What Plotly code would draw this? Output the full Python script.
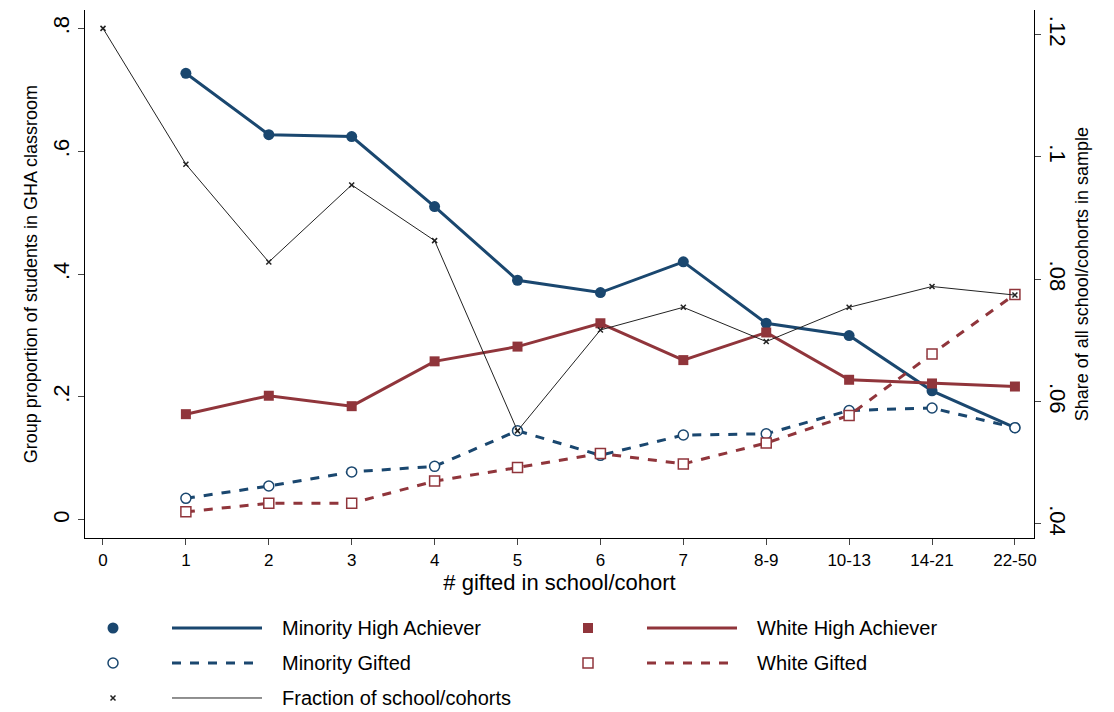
import plotly.graph_objects as go

cats = ["0","1","2","3","4","5","6","7","8-9","10-13","14-21","22-50"]
cats_g = cats[1:]
min_ha = [.727,.627,.624,.51,.39,.37,.42,.32,.30,.21,.15]
wht_ha = [.172,.202,.185,.258,.282,.32,.26,.305,.228,.222,.217]
min_gf = [.035,.055,.078,.087,.145,.105,.138,.14,.178,.182,.15]
wht_gf = [.013,.027,.027,.063,.085,.108,.091,.125,.17,.27,.367]
frac = [.121,.0988,.0828,.0954,.0863,.0552,.0717,.0754,.0698,.0754,.0788,.0774]

NAVY = "#1a476f"; RED = "#90353b"; BLK = "#222222"
styles = [
    ("Minority High Achiever", NAVY, "solid", 3, dict(symbol="circle", size=11, color=NAVY)),
    ("White High Achiever", RED, "solid", 3, dict(symbol="square", size=10, color=RED)),
    ("Minority Gifted", NAVY, "dash", 3, dict(symbol="circle", size=10, color="white", line=dict(width=1.5, color=NAVY))),
    ("White Gifted", RED, "dash", 3, dict(symbol="square", size=10, color="white", line=dict(width=1.5, color=RED))),
    ("Fraction of school/cohorts", BLK, "solid", 1, dict(symbol="x-thin", size=5, color=BLK, line=dict(width=1.5, color=BLK))),
]
series = [(cats_g, min_ha, "y"), (cats_g, wht_ha, "y"), (cats_g, min_gf, "y"), (cats_g, wht_gf, "y"), (cats, frac, "y2")]

fig = go.Figure()
for (name, col, dash, w, mk), (xs, ys, ax) in zip(styles, series):
    fig.add_trace(go.Scatter(x=xs, y=ys, name=name, mode="lines+markers", yaxis=ax, showlegend=False,
                             line=dict(color=col, width=w, dash=dash), marker=mk))

# manual legend (figure pixel coordinates)
pos = [(105, 620), (580, 620), (105, 655), (580, 655), (105, 690)]
for (name, col, dash, w, mk), (px, py) in zip(styles, pos):
    fig.add_trace(go.Scatter(x=[px], y=[py], mode="markers", marker=mk, xaxis="x3", yaxis="y3", showlegend=False, hoverinfo="skip"))
    fig.add_trace(go.Scatter(x=[px + 59, px + 149], y=[py, py], mode="lines", line=dict(color=col, width=w, dash=dash),
                             xaxis="x3", yaxis="y3", showlegend=False, hoverinfo="skip"))
    fig.add_annotation(x=px + 167, y=py, text=name, xref="x3", yref="y3", xanchor="left", yanchor="middle",
                       showarrow=False, font=dict(size=20))

fnt = dict(family="Liberation Sans, Arial", color="black")
fig.update_layout(
    width=1114, height=712, plot_bgcolor="white", paper_bgcolor="white",
    font=dict(**fnt, size=18),
    margin=dict(l=77, r=88, t=2, b=0, autoexpand=False),
    xaxis=dict(type="category", categoryarray=cats, range=[-0.217, 11.23], showline=True, linecolor="black",
               ticks="outside", ticklen=6, tickfont=dict(size=17), showgrid=False, anchor="y", automargin=False,
               title=dict(text="# gifted in school/cohort", font=dict(size=22), standoff=0)),
    yaxis=dict(domain=[0.256, 1], range=[-0.03, 0.83], tickvals=[0,.2,.4,.6,.8], ticktext=["0",".2",".4",".6",".8"],
               tickangle=-90, showline=True, linecolor="black", ticks="outside", ticklen=6, automargin=False,
               showgrid=False, zeroline=False, tickfont=dict(size=22),
               title=dict(text="Group proportion of students in GHA classroom", font=dict(size=18), standoff=6)),
    yaxis2=dict(domain=[0.256, 1], overlaying="y", side="right", anchor="x", range=[0.03765, 0.1240],
                tickvals=[.04,.06,.08,.1,.12], ticktext=[".04",".06",".08",".1",".12"], automargin=False,
                tickangle=90, showline=True, linecolor="black", ticks="outside", ticklen=6,
                showgrid=False, zeroline=False, tickfont=dict(size=22),
                title=dict(text="Share of all school/cohorts in sample", font=dict(size=18), standoff=6)),
    xaxis3=dict(domain=[0, 1], range=[77, 1026], visible=False, anchor="y3", automargin=False),
    yaxis3=dict(domain=[0, 0.17], range=[712, 591.3], visible=False, anchor="x3", automargin=False),
)
fig.write_html("out.html")
